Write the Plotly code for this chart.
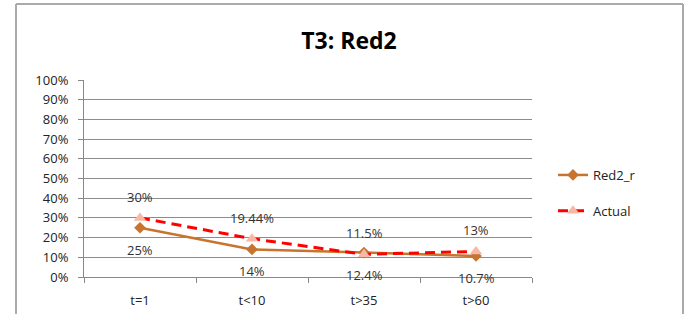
import plotly.graph_objects as go

categories = ["t=1", "t<10", "t>35", "t>60"]
red2_r = [25, 14, 12.4, 10.7]
actual = [30, 19.44, 11.5, 13]
red2_r_labels = ["25%", "14%", "12.4%", "10.7%"]
actual_labels = ["30%", "19.44%", "11.5%", "13%"]
y_ticks = list(range(0, 101, 10))
y_tick_labels = [f"{v}%" for v in y_ticks]

W, H = 684, 314
L, R, T, B = 84, 152, 80, 37
PW, PH = W - L - R, H - T - B


def px_x(x):
    return (x - L) / PW


def px_y(y):
    return (H - B - y) / PH


fig = go.Figure()
fig.add_trace(go.Scatter(
    x=categories, y=red2_r, name="Red2_r", mode="lines+markers",
    line=dict(color="#C8742F", width=2.5),
    marker=dict(symbol="diamond", size=9, color="#C8742F"),
    legendgroup="a",
))
fig.add_trace(go.Scatter(
    x=categories, y=actual, name="Actual", mode="lines+markers",
    line=dict(color="#FF0000", width=3, dash="10px,6px"),
    marker=dict(symbol="triangle-up", size=11, color="#F7B9A6"),
    legendgroup="b",
))

for c, v, t in zip(categories, red2_r, red2_r_labels):
    fig.add_annotation(x=c, y=v, text=t, showarrow=False, yshift=-22,
                       font=dict(size=13, color="#333333"))
for c, v, t in zip(categories, actual, actual_labels):
    fig.add_annotation(x=c, y=v, text=t, showarrow=False, yshift=21,
                       font=dict(size=13, color="#333333"))

# outer chart frame
frame = dict(color="#AAAAAA", width=2)
fig.add_shape(type="line", xref="paper", yref="paper",
              x0=px_x(16), x1=px_x(16), y0=px_y(4), y1=px_y(330), line=frame)
fig.add_shape(type="line", xref="paper", yref="paper",
              x0=px_x(16), x1=px_x(683), y0=px_y(4), y1=px_y(4), line=frame)
fig.add_shape(type="line", xref="paper", yref="paper",
              x0=px_x(683), x1=px_x(683), y0=px_y(4), y1=px_y(330), line=frame)

fig.update_layout(
    width=W, height=H,
    margin=dict(l=L, r=R, t=T, b=B, autoexpand=False),
    paper_bgcolor="white", plot_bgcolor="white",
    font=dict(family="Open Sans, Liberation Sans, sans-serif", color="#222222"),
    title=dict(text="<b>T3: Red2</b>", x=349 / W, xref="container", xanchor="center",
               y=1 - 41 / H, yref="container", yanchor="middle",
               font=dict(size=23, color="#000000")),
    showlegend=True,
    legend=dict(x=px_x(553), xanchor="left",
                y=px_y(193), yanchor="middle",
                font=dict(size=13, color="#222222"), tracegroupgap=16,
                bgcolor="rgba(0,0,0,0)"),
    xaxis=dict(type="category", tickson="boundaries", showgrid=False,
               showline=True, linecolor="#888888", linewidth=1,
               ticks="outside", ticklen=5, tickcolor="#888888",
               ticklabelstandoff=11, automargin=False,
               tickfont=dict(size=13, color="#222222"), range=[-0.5, 3.5]),
    yaxis=dict(range=[0, 100], tickvals=y_ticks, ticktext=y_tick_labels,
               showgrid=True, gridcolor="#8C8C8C", gridwidth=1,
               showline=True, linecolor="#888888", linewidth=1,
               ticks="outside", ticklen=5, tickcolor="#888888",
               ticklabelstandoff=7, automargin=False,
               tickfont=dict(size=13, color="#222222"), zeroline=False),
)

fig.write_html("out.html", config={"displayModeBar": False},
               post_script="document.body.style.margin='0';")
